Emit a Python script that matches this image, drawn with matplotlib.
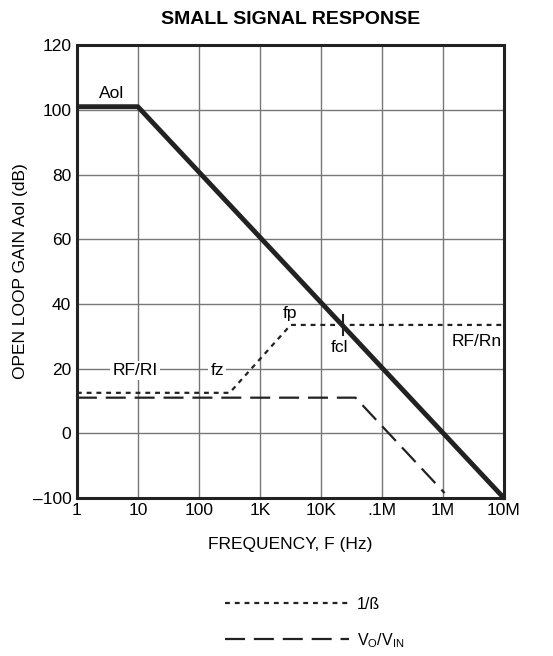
import numpy as np
import matplotlib.pyplot as plt

plt.rcParams['font.family'] = ['Liberation Sans', 'DejaVu Sans']

# open loop gain (dB)
aol_f = [1, 10, 1e7]
aol_db = [101, 101, -20]

# 1/beta (noise gain)
beta_f = [1, 320, 3200, 1e7]
beta_db = [12.5, 12.5, 33.5, 33.5]

# closed loop Vo/Vin
vo_f = [1, 37000, 1.07e6]
vo_db = [11, 11, -18.5]

xticks = [1, 10, 100, 1e3, 1e4, 1e5, 1e6, 1e7]
xlabels = ['1', '10', '100', '1K', '10K', '.1M', '1M', '10M']
yticks = [-20, 0, 20, 40, 60, 80, 100, 120]
ylabels = ['\u2013100', '0', '20', '40', '60', '80', '100', '120']

fs = 12.5

fig = plt.figure(figsize=(5.53, 6.56), dpi=100)
ax = fig.add_axes([0.139, 0.241, 0.772, 0.690])

ax.plot(aol_f, aol_db, color='#222222', lw=3.5, solid_capstyle='butt', zorder=4)
l1, = ax.plot(beta_f, beta_db, color='#222222', lw=1.6, linestyle=(0, (2.2, 2.2)), label='1/\u00df', zorder=3)
l2, = ax.plot(vo_f, vo_db, color='#222222', lw=1.6, linestyle=(0, (9, 4)), label='V$_\\mathregular{O}$/V$_\\mathregular{IN}$', zorder=3)

# fcl marker
fcl = 10 ** 4.36
ax.plot([fcl, fcl], [30.5, 36.5], color='#222222', lw=1.5, zorder=5)

ax.set_xscale('log')
ax.set_xlim(1, 1e7)
ax.set_ylim(-20, 120)
ax.set_xticks(xticks)
ax.set_xticklabels(xlabels)
ax.set_yticks(yticks)
ax.set_yticklabels(ylabels)
ax.minorticks_off()
ax.tick_params(length=0, labelsize=fs, pad=4)
ax.grid(True, color='#777777', lw=1.0)
ax.set_axisbelow(True)
for s in ax.spines.values():
    s.set_linewidth(2.2)
    s.set_color('#222222')

box = dict(facecolor='white', edgecolor='none', pad=1.5)
ax.text(10 ** 0.57, 105, 'Aol', fontsize=fs, ha='center', va='center')
ax.text(10 ** 3.5, 37, 'fp', fontsize=fs, ha='center', va='center')
ax.text(10 ** 4.3, 26.5, 'fcl', fontsize=fs, ha='center', va='center')
ax.text(10 ** 6.55, 28.5, 'RF/Rn', fontsize=fs, ha='center', va='center')
ax.text(10 ** 0.95, 19.5, 'RF/RI', fontsize=fs, ha='center', va='center', bbox=box)
ax.text(10 ** 2.3, 19.5, 'fz', fontsize=fs, ha='center', va='center', bbox=box)

ax.set_xlabel('FREQUENCY, F (Hz)', fontsize=fs, labelpad=13)
ax.set_ylabel('OPEN LOOP GAIN Aol (dB)', fontsize=fs, labelpad=3)
ax.set_title('SMALL SIGNAL RESPONSE', fontsize=14, fontweight='bold', pad=15)

fig.legend(handles=[l1, l2], loc='center left', bbox_to_anchor=(0.38, 0.05), frameon=False,
           handlelength=7.8, fontsize=11.5, labelspacing=1.2, handletextpad=0.5)

fig.savefig('out.png', dpi=100)
